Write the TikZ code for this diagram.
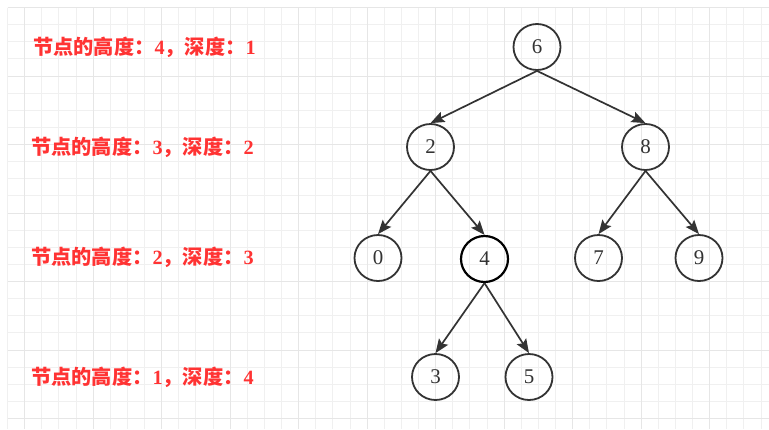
\documentclass[tikz,border=0pt]{standalone}
\usepackage{fontspec}
\setmainfont{Liberation Serif}
\newfontfamily\cjk{Noto Sans CJK SC}
\usetikzlibrary{shapes.geometric,arrows.meta}
\definecolor{edgec}{RGB}{51,51,51}
\definecolor{numc}{RGB}{51,51,51}
\definecolor{labred}{RGB}{255,51,51}
\definecolor{gridminor}{RGB}{240,240,240}
\definecolor{gridmajor}{RGB}{230,230,230}
\begin{document}
\begin{tikzpicture}[x=1bp,y=-1bp,
  tnode/.style={ellipse, draw=edgec, line width=1.8bp, minimum width=47bp, minimum height=46bp, inner sep=0pt, font=\fontsize{21}{21}\selectfont, text=numc},
  hilite/.style={draw=black, line width=2.2bp},
  lab/.style={anchor=west, inner sep=0pt, text=labred, font=\fontsize{20.3}{20.3}\selectfont\bfseries},
  conn/.style={draw=edgec, line width=1.7bp, -{Stealth[length=14bp,width=11bp,inset=2.5bp]}},
  gminor/.style={draw=gridminor, line width=1bp},
  gmajor/.style={draw=gridmajor, line width=1bp}]
\useasboundingbox (0,0) rectangle (769,429);
\fill[white] (0,0) rectangle (769,429);
% grid
\foreach \k in {0,...,44} {
  \draw[gminor] ({7.5+17.125*\k},7.5) -- ({7.5+17.125*\k},429);
}
\foreach \k in {0,...,24} {
  \draw[gminor] (7.5,{7.5+17.125*\k}) -- (769,{7.5+17.125*\k});
}
\foreach \k in {1,5,...,41} {
  \draw[gmajor] ({7.5+17.125*\k},7.5) -- ({7.5+17.125*\k},429);
}
\foreach \k in {0,4,...,24} {
  \draw[gmajor] (7.5,{7.5+17.125*\k}) -- (769,{7.5+17.125*\k});
}
% labels
\node[lab] (l1) at (33,47) {{\cjk 节点的高度：}4{\cjk ，深度：}1};
\node[lab] (l2) at (31,147) {{\cjk 节点的高度：}3{\cjk ，深度：}2};
\node[lab] (l3) at (31,257) {{\cjk 节点的高度：}2{\cjk ，深度：}3};
\node[lab] (l4) at (31,377) {{\cjk 节点的高度：}1{\cjk ，深度：}4};
% tree nodes
\node[tnode] (n6) at (537,47) {6};
\node[tnode] (n2) at (430.5,147) {2};
\node[tnode] (n8) at (645.5,147) {8};
\node[tnode] (n0) at (378,258) {0};
\node[tnode,hilite] (n4) at (484.5,259) {4};
\node[tnode] (n7) at (598.5,258) {7};
\node[tnode] (n9) at (699,258) {9};
\node[tnode] (n3) at (435.5,377) {3};
\node[tnode] (n5) at (529,377) {5};
% connectors
\draw[conn] (n6.south) -- (n2.north);
\draw[conn] (n6.south) -- (n8.north);
\draw[conn] (n2.south) -- (n0.north);
\draw[conn] (n2.south) -- (n4.north);
\draw[conn] (n8.south) -- (n7.north);
\draw[conn] (n8.south) -- (n9.north);
\draw[conn] (n4.south) -- (n3.north);
\draw[conn] (n4.south) -- (n5.north);
\end{tikzpicture}
\end{document}
